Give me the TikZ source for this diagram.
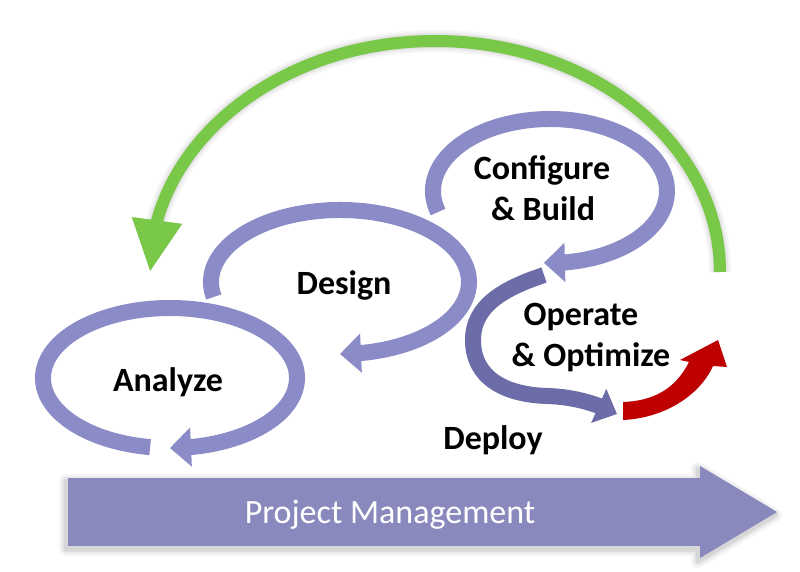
\documentclass[tikz,border=0pt]{standalone}
\usepackage{fontspec}
\setmainfont{Carlito}
\usetikzlibrary{arrows.meta,bending}
\definecolor{loopc}{RGB}{139,139,199}
\definecolor{operc}{RGB}{108,108,168}
\definecolor{barc}{RGB}{137,137,190}
\definecolor{greenc}{RGB}{122,200,72}
\definecolor{redc}{RGB}{190,0,0}
\begin{document}
\begin{tikzpicture}[x=1pt,y=1pt,yscale=-1,
  band/.style={draw=loopc, line width=16pt, -{Triangle[width=38pt,length=21pt]}},
  lbl/.style={font=\fontsize{34}{41}\selectfont\bfseries, text=black, inner sep=0pt, anchor=base},
  pmtext/.style={font=\fontsize{34}{41}\selectfont, text=white, inner sep=0pt, anchor=base},
]
\useasboundingbox (0,0) rectangle (800,572);
\fill[white] (0,0) rectangle (800,572);

% Project Management bar with soft shadow
\foreach \w/\o in {14/0.04,9/0.05,5/0.07}{
  \draw[black, opacity=\o, line width=\w pt, line join=round, shift={(-2,3)}]
    (68,478) -- (700,478) -- (700,466) -- (777,512) -- (700,558) -- (700,546) -- (68,546) -- cycle;
}
\fill[barc] (68,478) -- (700,478) -- (700,466) -- (777,512) -- (700,558) -- (700,546) -- (68,546) -- cycle;
\node[pmtext] (pm) at (390,523) {Project Management};

% Analyze loop
\path (170,378) ++(99:127 and 70) coordinate (aS);
\draw[band] (aS) arc[start angle=99, end angle=450, x radius=127, y radius=70];

% Design loop
\path (340,282) ++(168:129 and 72) coordinate (dS);
\draw[band] (dS) arc[start angle=168, end angle=450, x radius=129, y radius=72];

% Configure loop
\path (550,191) ++(163:117 and 72) coordinate (cS);
\draw[band] (cS) arc[start angle=163, end angle=453, x radius=117, y radius=72];

% Operate (Deploy) arc
\coordinate (oS) at (544,275);
\coordinate (oL) at (473,340);
\coordinate (oB) at (548,396);
\coordinate (oE) at (617,414);
\draw[band, draw=operc, -{Triangle[width=36pt,length=20pt]}]
  (oS) .. controls (505,288) and (473,305) .. (oL)
       .. controls (473,378) and (505,395) .. (oB)
       .. controls (575,397) and (598,404) .. (oE);

% Red arrow
\fill[redc] (623,402) .. controls (652,401) and (675,390) .. (689,362)
  -- (680,360) -- (718,340) -- (727,367) -- (713,366)
  .. controls (700,395) and (665,418) .. (623,420) -- cycle;

% Green return arrow with shadow
\coordinate (gS) at (720,272);
\foreach \w/\o in {22/0.04,17/0.05,13/0.06}{
  \draw[black, opacity=\o, line width=\w pt, shift={(3,7)}, -{Triangle[width=47pt,length=52pt]}]
    (gS) arc[start angle=0, end angle=-180, x radius=285, y radius=231];
}
\draw[greenc, line width=12pt, -{Triangle[width=47pt,length=52pt]}]
  (gS) arc[start angle=0, end angle=-180, x radius=285, y radius=231];

% Labels
\node[lbl] (analyze) at (168,391) {Analyze};
\node[lbl] (design) at (344,294) {Design};
\node[lbl] (conf1) at (542,179) {Configure};
\node[lbl] (conf2) at (543,220) {\& Build};
\node[lbl] (oper1) at (581,325) {Operate};
\node[lbl] (oper2) at (591,366) {\& Optimize};
\node[lbl] (deploy) at (493,449) {Deploy};
\end{tikzpicture}
\end{document}
